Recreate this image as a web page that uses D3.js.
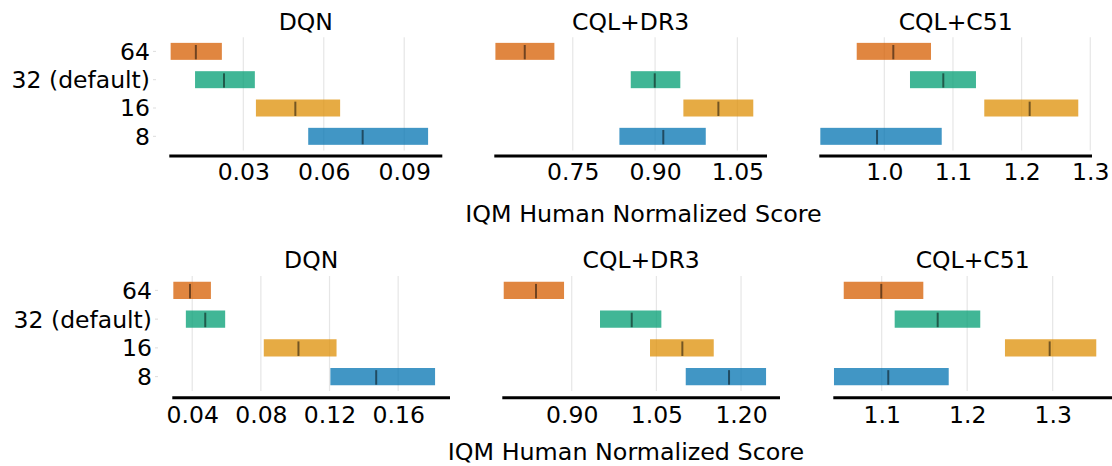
<!DOCTYPE html>
<html>
<head>
<meta charset="utf-8">
<script src="https://cdn.jsdelivr.net/npm/d3@7"></script>
<style>
  html, body { margin: 0; padding: 0; background: #ffffff; }
  svg { display: block; }
  text { font-family: "DejaVu Sans", sans-serif; fill: #000; }
</style>
</head>
<body>
<svg id="chart" width="1112" height="466"></svg>
<script>
// ---------------- DATA ----------------
// configurations, index 0 is drawn at the bottom (rliable convention)
const configs = ["8", "16", "32 (default)", "64"];
const configColors = ["#0173B2", "#DE8F05", "#029E73", "#D55E00"];
const panelTitles = ["DQN", "CQL+DR3", "CQL+C51"];
const xLabel = "IQM Human Normalized Score";

// Top row ---------------------------------------------------------
const topDqnLower  = [0.0542, 0.0347, 0.0120, 0.0029];
const topDqnMedian = [0.0745, 0.0494, 0.0228, 0.0123];
const topDqnUpper  = [0.0989, 0.0661, 0.0343, 0.0220];

const topDr3Lower  = [0.835, 0.9516, 0.8557, 0.609];
const topDr3Median = [0.915, 1.0154, 0.8994, 0.6625];
const topDr3Upper  = [0.9924, 1.079, 0.946, 0.7165];

const topC51Lower  = [0.9068, 1.1456, 1.0374, 0.9598];
const topC51Median = [0.9894, 1.2117, 1.0859, 1.0131];
const topC51Upper  = [1.0836, 1.2825, 1.1335, 1.068];

const topTicks = [[0.03, 0.06, 0.09], [0.75, 0.90, 1.05], [1.0, 1.1, 1.2, 1.3]];
const topTickLabels = [["0.03", "0.06", "0.09"], ["0.75", "0.90", "1.05"], ["1.0", "1.1", "1.2", "1.3"]];
const topDomains = [[0.0024, 0.1042], [0.607, 1.104], [0.9053, 1.3025]];

// Bottom row ------------------------------------------------------
const botDqnLower  = [0.1205, 0.0817, 0.0363, 0.0290];
const botDqnMedian = [0.1472, 0.1019, 0.0476, 0.0387];
const botDqnUpper  = [0.1815, 0.1241, 0.0592, 0.0509];

const botDr3Lower  = [1.102, 1.0387, 0.9501, 0.7795];
const botDr3Median = [1.1787, 1.096, 1.0063, 0.8367];
const botDr3Upper  = [1.2443, 1.1516, 1.0588, 0.8864];

const botC51Lower  = [1.0442, 1.2442, 1.1152, 1.0556];
const botC51Median = [1.1077, 1.2965, 1.1655, 1.0995];
const botC51Upper  = [1.1784, 1.351, 1.2153, 1.1487];

const botTicks = [[0.04, 0.08, 0.12, 0.16], [0.90, 1.05, 1.20], [1.1, 1.2, 1.3]];
const botTickLabels = [["0.04", "0.08", "0.12", "0.16"], ["0.90", "1.05", "1.20"], ["1.1", "1.2", "1.3"]];
const botDomains = [[0.0284, 0.1902], [0.777, 1.269], [1.0434, 1.3694]];

// ---------------- LAYOUT ----------------
const rows = [
  {
    yTop: 37.2, yBot: 150.5, spineY: 156, tickBase: 180, titleBase: 29.5,
    xLabelX: 643.5, xLabelY: 221.7, yLabelX: 150,
    xRanges: [[169.3, 442.3], [494.3, 767], [819.3, 1092]],
    lower: [topDqnLower, topDr3Lower, topC51Lower],
    median: [topDqnMedian, topDr3Median, topC51Median],
    upper: [topDqnUpper, topDr3Upper, topC51Upper],
    ticks: topTicks, tickLabels: topTickLabels, domains: topDomains
  },
  {
    yTop: 276, yBot: 391, spineY: 397.7, tickBase: 422.7, titleBase: 267.5,
    xLabelX: 626, xLabelY: 460, yLabelX: 152,
    xRanges: [[172.3, 450], [502.3, 780], [833.3, 1112]],
    lower: [botDqnLower, botDr3Lower, botC51Lower],
    median: [botDqnMedian, botDr3Median, botC51Median],
    upper: [botDqnUpper, botDr3Upper, botC51Upper],
    ticks: botTicks, tickLabels: botTickLabels, domains: botDomains
  }
];

const FS = 23.5;
const FS_LABEL = 23.8;
const svg = d3.select("#chart");
const h = 0.6;

rows.forEach(row => {
  const y = d3.scaleLinear().domain([configs.length - 0.5, -0.5]).range([row.yTop, row.yBot]);

  // y tick labels (only on the first panel)
  const yl = svg.append("g");
  configs.forEach((c, i) => {
    yl.append("line")
      .attr("x1", row.yLabelX + 3).attr("x2", row.yLabelX + 6)
      .attr("y1", y(i)).attr("y2", y(i))
      .attr("stroke", "#dddddd").attr("stroke-width", 1);
    yl.append("text")
      .attr("x", row.yLabelX).attr("y", y(i))
      .attr("dy", "0.36em")
      .attr("text-anchor", "end")
      .style("font-size", FS + "px")
      .text(c);
  });

  row.xRanges.forEach((rng, p) => {
    const x = d3.scaleLinear().domain(row.domains[p]).range(rng);
    const g = svg.append("g");

    // grid
    g.selectAll("line.grid").data(row.ticks[p]).enter().append("line")
      .attr("class", "grid")
      .attr("x1", d => x(d)).attr("x2", d => x(d))
      .attr("y1", row.yTop).attr("y2", row.yBot)
      .attr("stroke", "#e6e6e6").attr("stroke-width", 1.2);

    // bars
    configs.forEach((c, i) => {
      const lo = row.lower[p][i], hi = row.upper[p][i], md = row.median[p][i];
      g.append("rect")
        .attr("x", x(lo)).attr("width", x(hi) - x(lo))
        .attr("y", y(i + h / 2)).attr("height", y(i - h / 2) - y(i + h / 2))
        .attr("fill", configColors[i]).attr("fill-opacity", 0.75);
      g.append("line")
        .attr("x1", x(md)).attr("x2", x(md))
        .attr("y1", y(i + 6 * h / 16)).attr("y2", y(i - 7.5 * h / 16))
        .attr("stroke", "#000").attr("stroke-opacity", 0.5).attr("stroke-width", 2);
    });

    // bottom spine (offset outward)
    const axis = d3.axisBottom(x).tickValues(row.ticks[p])
      .tickFormat((d, k) => row.tickLabels[p][k]).tickSize(0).tickPadding(0);
    const ax = g.append("g").attr("transform", `translate(0,${row.spineY})`).call(axis);
    ax.select(".domain").attr("stroke", "#000").attr("stroke-width", 3).attr("d", `M${rng[0]},0H${rng[1]}`);
    ax.selectAll(".tick text")
      .attr("y", row.tickBase - row.spineY).attr("dy", 0)
      .style("font-size", FS + "px").style("font-family", "DejaVu Sans").attr("fill", "#000");

    // title
    g.append("text")
      .attr("x", (rng[0] + rng[1]) / 2).attr("y", row.titleBase)
      .attr("text-anchor", "middle")
      .style("font-size", FS + "px")
      .text(panelTitles[p]);
  });

  svg.append("text")
    .attr("x", row.xLabelX).attr("y", row.xLabelY)
    .attr("text-anchor", "middle")
    .style("font-size", FS_LABEL + "px")
    .text(xLabel);
});
</script>
</body>
</html>
